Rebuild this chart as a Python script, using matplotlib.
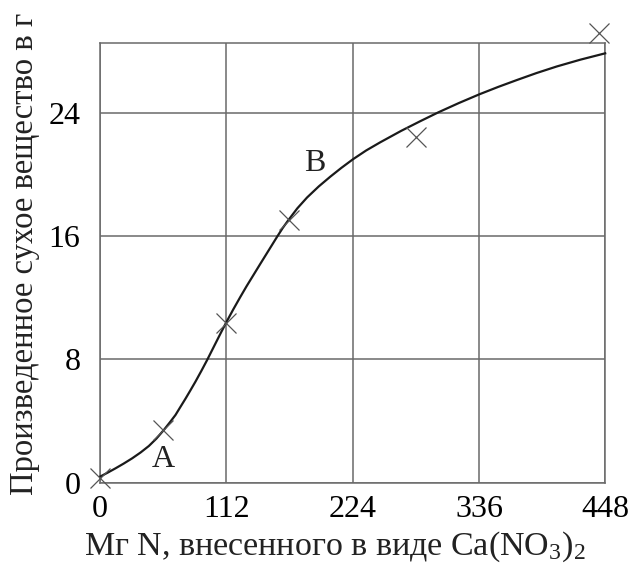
import matplotlib
matplotlib.use("Agg")
import matplotlib.pyplot as plt

plt.rcParams['font.family'] = ['Liberation Serif', 'DejaVu Serif']
plt.rcParams['mathtext.fontset'] = 'custom'
plt.rcParams['mathtext.rm'] = 'Liberation Serif'
plt.rcParams['mathtext.it'] = 'Liberation Serif:italic'

# measured points (crosses)
point_x = [0, 56, 112, 168, 280, 442]
point_y = [0.3, 3.45, 10.35, 17.05, 22.4, 29.2]

# smooth curve
curve_x = [0, 7, 13.7, 21, 28.5, 36, 43.3, 50, 56.6, 62, 66.9, 71, 75.8, 80, 84.6, 90,
           95, 102.3, 107, 111.8, 118, 124.5, 130, 136.3, 142, 148.1, 157, 162, 167.3,
           175, 183.6, 194, 204.2, 214, 224.3, 236, 248.5, 258, 267, 284, 300.2, 318,
           336.3, 353, 369.7, 387, 405.1, 426, 447.9]
curve_y = [0.39, 0.66, 0.93, 1.24, 1.58, 1.96, 2.38, 2.86, 3.42, 3.92, 4.39, 4.88, 5.45,
           5.97, 6.55, 7.27, 7.96, 9.02, 9.7, 10.38, 11.22, 12.06, 12.75, 13.5, 14.18,
           14.9, 15.95, 16.52, 17.06, 17.8, 18.5, 19.22, 19.85, 20.42, 20.98, 21.55,
           22.08, 22.46, 22.82, 23.45, 24.03, 24.62, 25.19, 25.67, 26.12, 26.57, 27.0,
           27.44, 27.85]

x_ticks = [0, 112, 224, 336, 448]
y_ticks = [0, 8, 16, 24]

labels = ["A", "B"]
label_x = [56, 190.6]
label_y = [1.5, 20.7]

xlabel = "Мг N, внесенного в виде Ca(NO$_3$)$_2$"
ylabel = "Произведенное сухое вещество в г"

fig = plt.figure(figsize=(6.31, 5.67), dpi=100)
ax = fig.add_axes([100/631, 1-482.7/567, 505.3/631, 439.4/567])

grid_c = '#6a6a6a'
ax.set_xlim(0, 448)
ax.set_ylim(0, 28.5)
ax.set_xticks(x_ticks)
ax.set_yticks(y_ticks)
ax.set_xticklabels([str(v) for v in x_ticks])
ax.set_yticklabels([str(v) for v in y_ticks])
ax.tick_params(length=0, labelsize=23, pad=9)
ax.tick_params(axis='y', pad=14)
ax.grid(True, color=grid_c, lw=1.1)
for s in ax.spines.values():
    s.set_color(grid_c)
    s.set_linewidth(1.1)

ax.plot(curve_x, curve_y, color='#1a1a1a', lw=1.6, clip_on=False, zorder=3,
        solid_joinstyle='round')
ax.plot(point_x, point_y, linestyle='none', marker='x', markersize=14,
        markeredgewidth=0.9, color='#555555', clip_on=False, zorder=4)

for t, x, y in zip(labels, label_x, label_y):
    ax.text(x, y, t, fontsize=23, ha='center', va='center', color='#222222')

fig.text(335/631, 1-547/567, xlabel, fontsize=24.5, ha='center', va='center', color='#222222')
fig.text(25/631, 1-254/567, ylabel, fontsize=23.5, ha='center', va='center',
         rotation=90, color='#222222')

fig.savefig("out.png", dpi=100)
